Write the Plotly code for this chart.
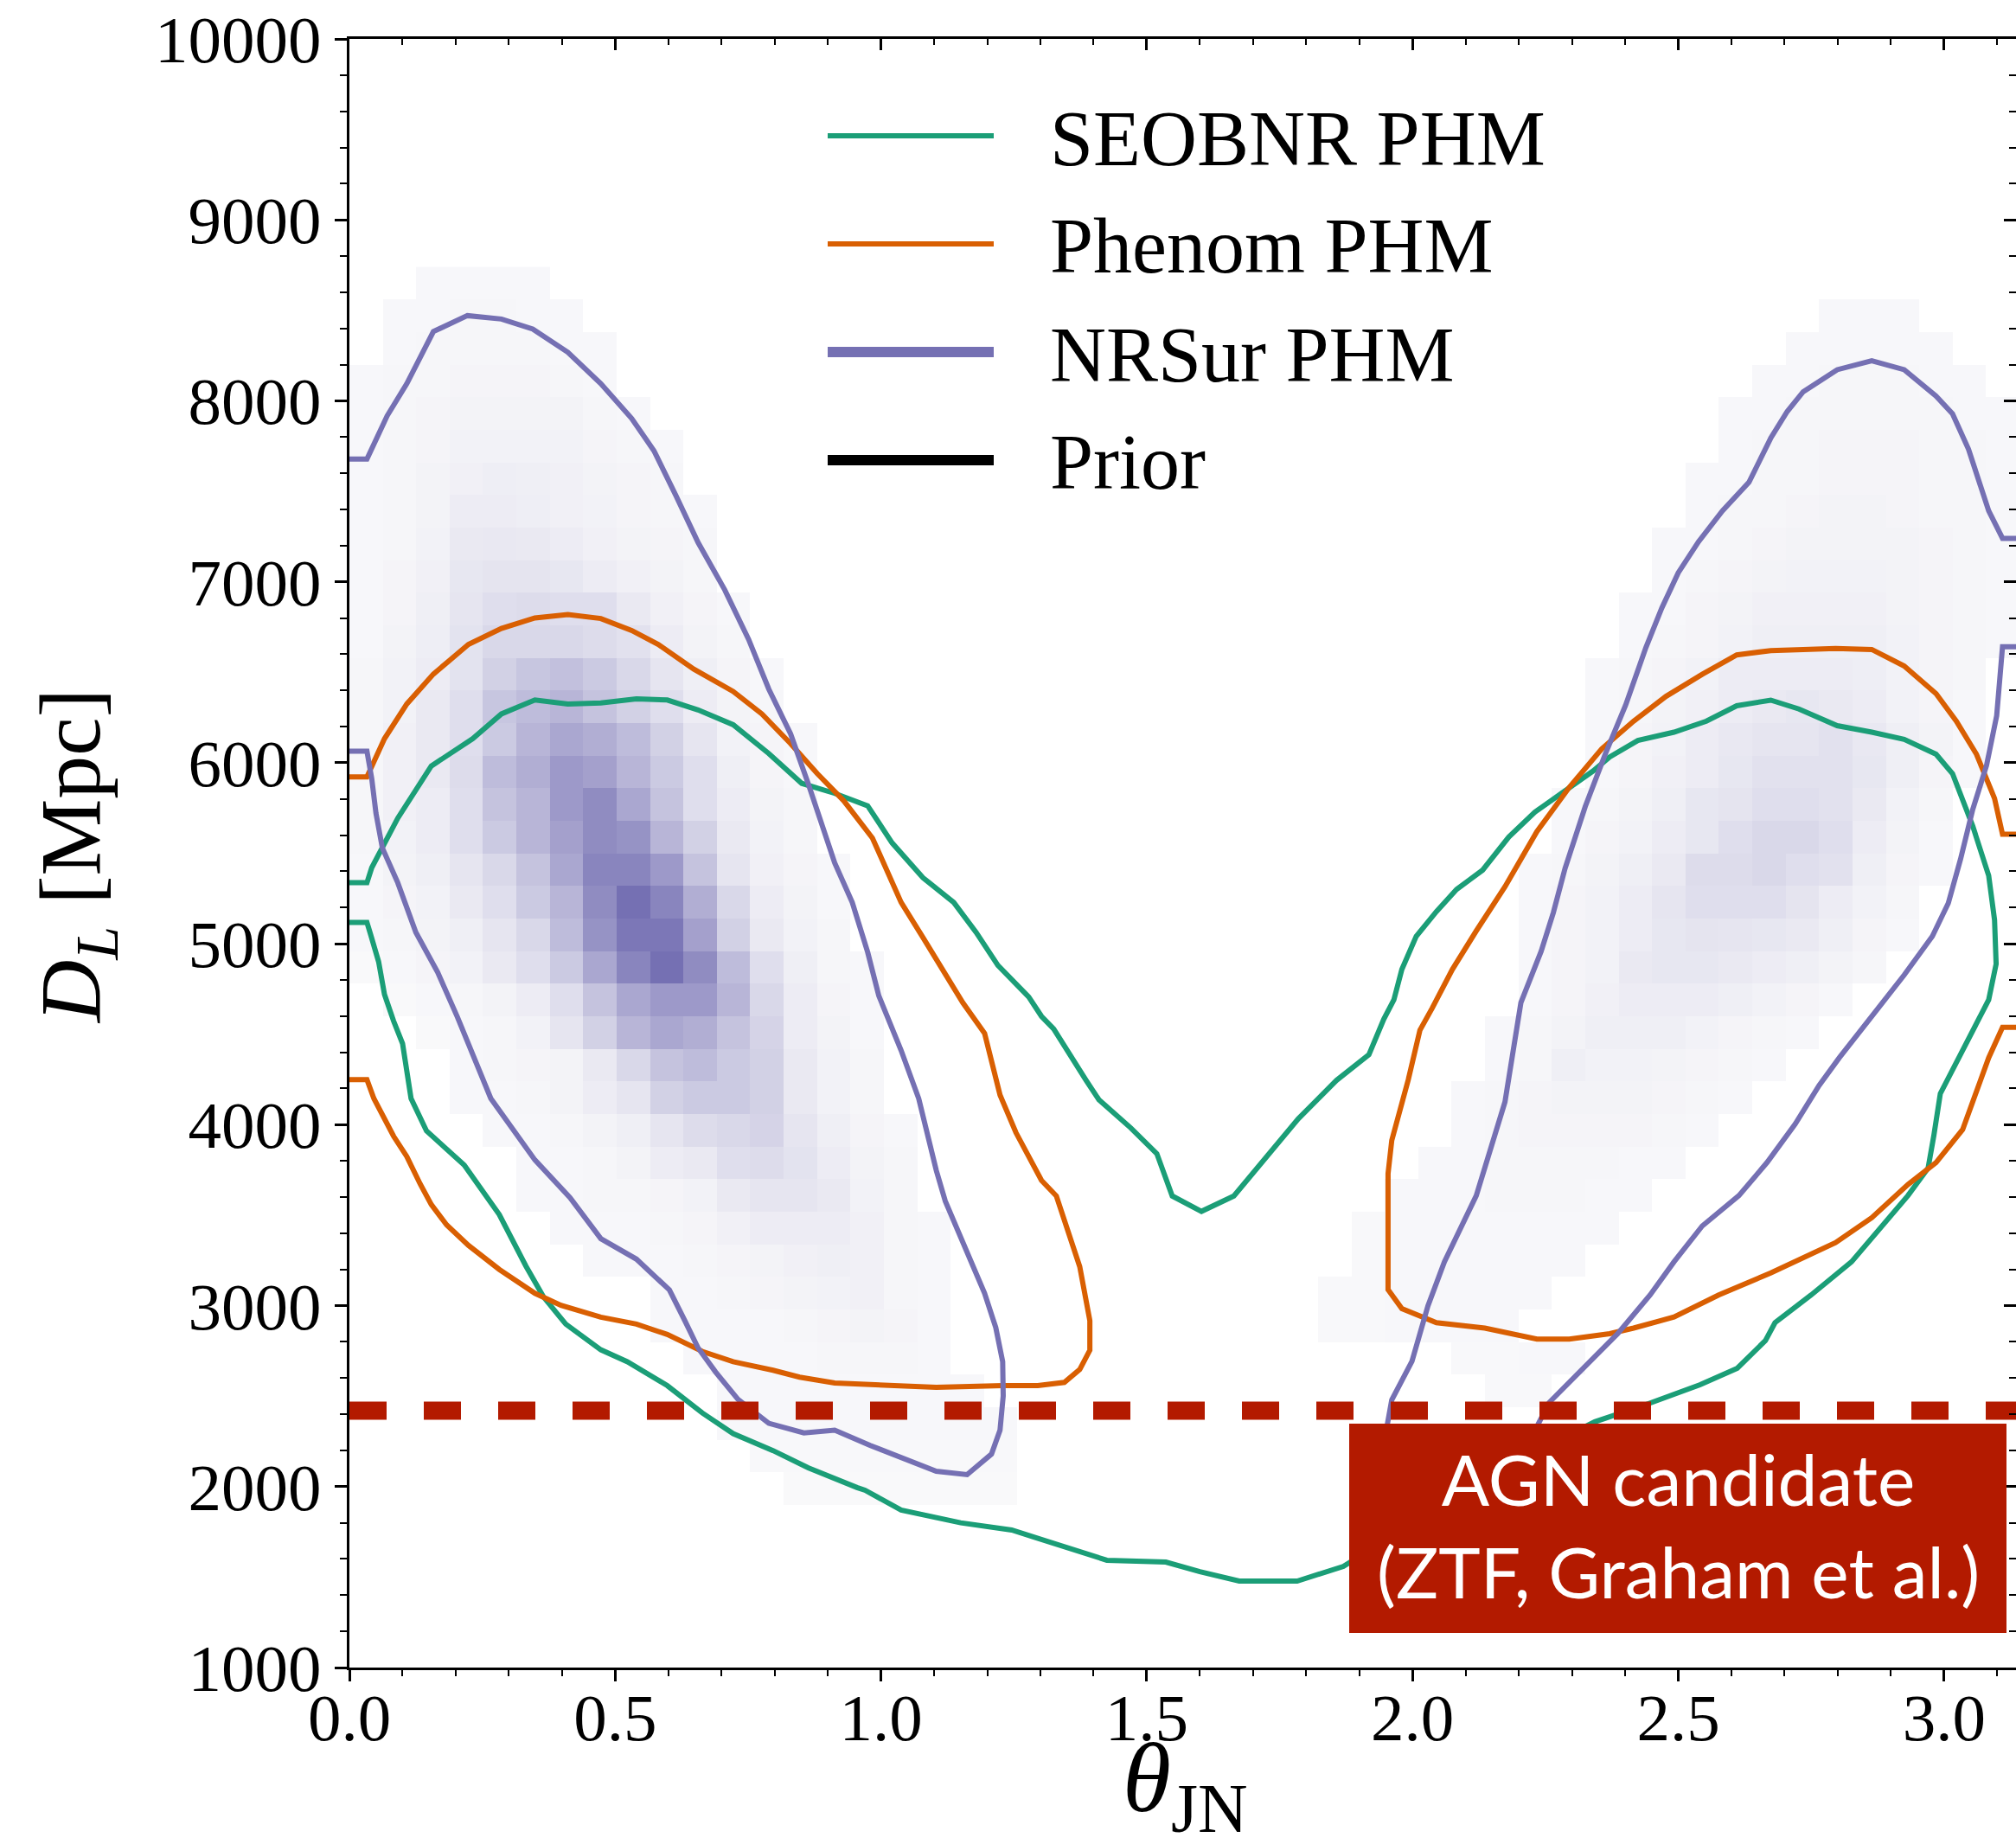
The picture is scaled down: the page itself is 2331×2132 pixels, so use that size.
import math
import plotly.graph_objects as go

PI = math.pi

# ---------------- 2-D histogram of NRSur samples (relative density 0..1) ----------------
N_THETA_BINS = 50
DL_TOP_EDGE = 8740
DL_BIN = 180
N_DL_BINS = 39

# row index (from top) -> (first theta-bin, densities)
LEFT_BLOB_ROWS = {
    0: (2, [.02, .02, .02, .02]),
    1: (1, [.02, .02, .03, .03, .02, .02]),
    2: (1, [.02, .03, .03, .03, .03, .02, .02]),
    3: (0, [.02, .03, .03, .04, .04, .04, .03, .02]),
    4: (0, [.02, .03, .04, .05, .05, .05, .05, .03, .02]),
    5: (0, [.02, .03, .04, .06, .06, .06, .06, .04, .03, .02]),
    6: (0, [.02, .03, .05, .07, .09, .08, .07, .05, .04, .03]),
    7: (0, [.02, .03, .05, .10, .10, .09, .07, .06, .04, .03, .02]),
    8: (0, [.02, .03, .06, .12, .13, .12, .10, .07, .05, .04, .03]),
    9: (0, [.02, .04, .07, .14, .16, .16, .14, .10, .07, .05, .03]),
    10: (0, [.02, .04, .08, .15, .20, .22, .20, .20, .12, .07, .04, .02]),
    11: (0, [.02, .05, .09, .17, .25, .25, .25, .22, .18, .10, .05, .03]),
    12: (0, [.03, .06, .10, .17, .30, .38, .42, .35, .25, .15, .08, .04, .02]),
    13: (0, [.03, .06, .12, .20, .38, .45, .50, .40, .30, .20, .10, .05, .03]),
    14: (0, [.03, .07, .12, .20, .35, .50, .60, .55, .45, .30, .15, .06, .04, .02]),
    15: (0, [.03, .07, .12, .22, .45, .55, .70, .65, .50, .35, .20, .08, .04, .02]),
    16: (0, [.03, .07, .10, .20, .40, .50, .70, .80, .60, .40, .20, .10, .05, .03]),
    17: (0, [.03, .06, .10, .20, .35, .50, .65, .80, .75, .50, .30, .12, .06, .03]),
    18: (0, [.02, .05, .08, .15, .25, .40, .60, .85, .85, .70, .40, .15, .07, .04, .02]),
    19: (0, [.02, .04, .06, .12, .20, .35, .50, .80, 1.0, .85, .55, .25, .10, .05, .02]),
    20: (0, [.02, .03, .05, .08, .15, .25, .45, .75, .95, .95, .65, .30, .12, .06, .03]),
    21: (0, [.01, .02, .04, .06, .12, .20, .35, .60, .85, 1.0, .80, .45, .20, .08, .03, .02]),
    22: (1, [.01, .02, .03, .05, .10, .20, .40, .60, .70, .70, .50, .25, .10, .04, .02]),
    23: (2, [.01, .02, .03, .06, .15, .30, .50, .60, .55, .40, .28, .10, .05, .02]),
    24: (3, [.02, .03, .04, .05, .12, .25, .40, .45, .35, .30, .12, .06, .03]),
    25: (3, [.02, .02, .03, .05, .10, .15, .30, .35, .35, .30, .12, .06, .03]),
    26: (4, [.02, .02, .03, .05, .08, .15, .22, .25, .28, .15, .08, .04, .02]),
    27: (5, [.02, .02, .03, .05, .10, .12, .20, .22, .17, .10, .05, .03]),
    28: (5, [.02, .02, .03, .03, .04, .06, .12, .15, .15, .12, .06, .03]),
    29: (6, [.02, .02, .02, .03, .04, .07, .10, .10, .10, .07, .03, .02]),
    30: (7, [.02, .02, .02, .03, .04, .05, .07, .08, .07, .03, .02]),
    31: (9, [.02, .02, .03, .04, .05, .06, .07, .03, .02]),
    32: (9, [.02, .02, .02, .02, .03, .04, .05, .04, .02]),
    33: (10, [.02, .02, .02, .02, .03, .03, .03, .02]),
    34: (11, [.02, .02, .02, .02, .02, .02, .02, .02]),
    35: (11, [.02, .02, .02, .02, .02, .02, .02, .02, .02]),
    36: (12, [.015, .015, .015, .015, .015, .015, .015, .015]),
    37: (13, [.01, .01, .01, .01, .01, .01, .01]),
}

RIGHT_BLOB_ROWS = {
    1: (44, [.02, .02, .02]),
    2: (43, [.02, .02, .02, .02, .02]),
    3: (42, [.02, .02, .03, .03, .03, .02, .02]),
    4: (41, [.02, .02, .03, .03, .03, .03, .03, .02, .02]),
    5: (41, [.02, .03, .03, .04, .04, .04, .03, .03, .02]),
    6: (40, [.02, .02, .03, .03, .04, .04, .04, .03, .03, .02]),
    7: (40, [.02, .03, .03, .04, .05, .05, .04, .03, .03, .02]),
    8: (39, [.02, .02, .03, .04, .05, .05, .05, .05, .04, .03, .02]),
    9: (39, [.02, .03, .04, .05, .06, .06, .06, .05, .04, .03, .02]),
    10: (38, [.02, .02, .04, .05, .07, .07, .07, .07, .05, .04, .03, .02]),
    11: (38, [.02, .03, .04, .06, .08, .08, .08, .08, .06, .04, .03, .02]),
    12: (37, [.02, .03, .04, .06, .10, .10, .10, .10, .09, .06, .04, .03]),
    13: (37, [.02, .03, .05, .07, .10, .12, .14, .12, .10, .06, .04, .02]),
    14: (37, [.02, .04, .06, .10, .13, .15, .15, .18, .13, .08, .05, .02]),
    15: (37, [.02, .04, .07, .10, .14, .18, .18, .18, .14, .08, .04, .02]),
    16: (36, [.02, .03, .05, .08, .14, .16, .20, .20, .18, .12, .06, .03]),
    17: (36, [.02, .04, .06, .10, .14, .20, .25, .25, .20, .10, .05, .02]),
    18: (35, [.02, .03, .05, .08, .12, .22, .22, .25, .20, .18, .08, .04, .02]),
    19: (35, [.02, .04, .06, .10, .15, .20, .20, .20, .16, .10, .06, .03]),
    20: (35, [.02, .04, .06, .10, .14, .16, .15, .14, .12, .08, .04, .02]),
    21: (35, [.02, .04, .06, .12, .14, .14, .12, .10, .08, .05, .03]),
    22: (35, [.02, .04, .07, .10, .10, .10, .08, .06, .04, .02]),
    23: (34, [.02, .03, .05, .08, .08, .08, .06, .04, .03, .02]),
    24: (34, [.02, .03, .08, .06, .06, .05, .04, .03, .02]),
    25: (33, [.02, .03, .04, .05, .05, .05, .04, .03, .02]),
    26: (33, [.02, .03, .04, .04, .04, .04, .03, .02]),
    27: (32, [.02, .02, .03, .03, .03, .03, .02, .02]),
    28: (31, [.02, .02, .02, .03, .03, .03, .02, .02]),
    29: (30, [.015, .02, .02, .02, .02, .02, .02, .02]),
    30: (30, [.015, .02, .02, .02, .02, .02, .02]),
    31: (29, [.015, .015, .02, .02, .02, .02, .02]),
    32: (29, [.015, .015, .02, .02, .02, .02]),
    33: (33, [.015, .015, .02, .02]),
    34: (34, [.015, .015]),
}

# ---------------- 90% credible contours (theta_JN [rad], D_L [Mpc]) ----------------
SEOBNR_THETA = [0, 0.033, 0.042, 0.091, 0.154, 0.232, 0.286, 0.349, 0.411, 0.473, 0.540, 0.598,
                0.656, 0.722, 0.789, 0.851, 0.913, 0.975, 1.021, 1.079, 1.137, 1.179, 1.220, 1.278,
                1.302, 1.325, 1.386, 1.41, 1.47, 1.519, 1.548, 1.603, 1.664, 1.724, 1.785, 1.857,
                1.918, 1.946, 1.965, 1.980, 2.007, 2.045, 2.083, 2.132, 2.181, 2.230, 2.287, 2.340,
                2.371, 2.424, 2.492, 2.553, 2.610, 2.674, 2.727, 2.799, 2.864, 2.925, 2.985, 3.016,
                3.054, 3.084, 3.095, 3.098, 3.084, 3.046, 3.016, 2.993, 2.981, 2.970, 2.932, 2.879,
                2.826, 2.750, 2.682, 2.664, 2.611, 2.541, 2.439, 2.343, 2.25, 2.10, 1.95, 1.870,
                1.783, 1.743, 1.674, 1.60, 1.536, 1.425, 1.33, 1.246, 1.15, 1.038, 0.970, 0.955,
                0.863, 0.797, 0.722, 0.664, 0.598, 0.523, 0.473, 0.407, 0.365, 0.332, 0.282, 0.216,
                0.145, 0.116, 0.100, 0.083, 0.066, 0.055, 0.040, 0.033, 0]
SEOBNR_DL = [5337, 5337, 5420, 5694, 5982, 6133, 6270, 6347, 6325, 6330, 6353, 6347,
             6292, 6210, 6051, 5886, 5831, 5762, 5557, 5365, 5228, 5063, 4880, 4706,
             4599, 4529, 4245, 4138, 3982, 3840, 3606, 3521, 3606, 3819, 4032, 4245,
             4387, 4583, 4690, 4858, 5041, 5178, 5300, 5407, 5589, 5727, 5849, 5955,
             6032, 6123, 6169, 6230, 6315, 6346, 6297, 6205, 6169, 6129, 6047, 5940,
             5650, 5376, 5132, 4888, 4690, 4477, 4309, 4172, 3943, 3760, 3608, 3425,
             3242, 3059, 2906, 2807, 2654, 2563, 2453, 2358, 2220, 1980, 1700, 1559,
             1478, 1478, 1478, 1530, 1583, 1593, 1680, 1760, 1800, 1870, 1980, 1995,
             2104, 2199, 2293, 2407, 2558, 2690, 2756, 2898, 3049, 3219, 3503, 3777,
             3966, 4145, 4448, 4574, 4720, 4900, 5050, 5118, 5118]

PHENOM_LEFT_THETA = [0, 0.033, 0.066, 0.108, 0.158, 0.224, 0.286, 0.349, 0.411, 0.473, 0.531, 0.581,
                     0.648, 0.722, 0.776, 0.830, 0.880, 0.930, 0.984, 1.038, 1.079, 1.112, 1.154,
                     1.195, 1.224, 1.254, 1.302, 1.330, 1.374, 1.393, 1.393, 1.374, 1.345, 1.295,
                     1.229, 1.104, 0.980, 0.913, 0.847, 0.797, 0.722, 0.664, 0.598, 0.540, 0.473,
                     0.398, 0.349, 0.282, 0.224, 0.183, 0.154, 0.133, 0.108, 0.083, 0.046, 0.033, 0]
PHENOM_LEFT_DL = [5922, 5922, 6133, 6325, 6490, 6654, 6742, 6800, 6819, 6797, 6731, 6654,
                  6517, 6394, 6270, 6106, 5941, 5790, 5584, 5228, 5035, 4871, 4674,
                  4504, 4164, 3956, 3692, 3606, 3215, 2917, 2754, 2647, 2576, 2558,
                  2558, 2548, 2567, 2573, 2605, 2643, 2690, 2747, 2841, 2898, 2936,
                  3002, 3068, 3200, 3333, 3446, 3559, 3673, 3824, 3937, 4145, 4249, 4249]

PHENOM_RIGHT_THETA = [PI, 3.110, 3.095, 3.061, 3.023, 2.985, 2.925, 2.864, 2.796, 2.735, 2.674, 2.610,
                      2.545, 2.477, 2.416, 2.356, 2.295, 2.234, 2.174, 2.120, 2.075, 2.037, 2.014,
                      1.992, 1.976, 1.961, 1.954, 1.954, 1.954, 1.954, 1.980, 2.045, 2.136, 2.234,
                      2.295, 2.371, 2.416, 2.492, 2.576, 2.674, 2.796, 2.864, 2.932, 2.985, 3.035,
                      3.084, 3.110, PI]
PHENOM_RIGHT_DL = [5605, 5605, 5803, 6047, 6230, 6382, 6535, 6626, 6632, 6626, 6620, 6596,
                   6489, 6367, 6230, 6077, 5864, 5620, 5315, 5071, 4858, 4644, 4522,
                   4248, 4065, 3913, 3730, 3425, 3242, 3089, 2983, 2906, 2876, 2815,
                   2815, 2845, 2876, 2937, 3059, 3181, 3348, 3486, 3669, 3791, 3973,
                   4370, 4538, 4538]

NRSUR_LEFT_THETA = [0, 0.033, 0.071, 0.108, 0.158, 0.222, 0.286, 0.345, 0.411, 0.473, 0.531, 0.573,
                    0.614, 0.656, 0.706, 0.751, 0.789, 0.830, 0.863, 0.913, 0.946, 0.975, 0.996,
                    1.038, 1.071, 1.087, 1.104, 1.121, 1.162, 1.195, 1.216, 1.229, 1.230, 1.224,
                    1.208, 1.162, 1.104, 1.046, 0.980, 0.913, 0.855, 0.789, 0.731, 0.689, 0.656,
                    0.631, 0.602, 0.540, 0.473, 0.415, 0.349, 0.266, 0.220, 0.203, 0.166, 0.125,
                    0.091, 0.062, 0.050, 0.042, 0.033, 0]
NRSUR_LEFT_DL = [7678, 7678, 7917, 8095, 8383, 8471, 8452, 8397, 8268, 8095, 7903, 7724,
                 7478, 7217, 6956, 6682, 6407, 6160, 5886, 5447, 5228, 4953, 4712,
                 4410, 4145, 3956, 3748, 3578, 3295, 3068, 2879, 2690, 2501, 2312,
                 2180, 2066, 2085, 2151, 2227, 2312, 2297, 2350, 2482, 2633, 2766,
                 2917, 3087, 3257, 3370, 3597, 3805, 4145, 4486, 4596, 4843, 5063,
                 5337, 5529, 5721, 5913, 6064, 6064]

NRSUR_RIGHT_THETA = [PI, 3.110, 3.084, 3.046, 3.016, 2.985, 2.925, 2.864, 2.799, 2.735, 2.705, 2.674,
                     2.633, 2.583, 2.538, 2.500, 2.469, 2.439, 2.401, 2.363, 2.325, 2.287, 2.265,
                     2.242, 2.204, 2.174, 2.120, 2.060, 2.029, 1.999, 1.961, 1.95, 1.97, 2.05,
                     2.15, 2.22, 2.257, 2.325, 2.386, 2.447, 2.492, 2.545, 2.614, 2.667, 2.720,
                     2.765, 2.803, 2.864, 2.925, 2.978, 3.008, 3.031, 3.054, 3.080, 3.099, 3.110, PI]
NRSUR_RIGHT_DL = [7240, 7240, 7392, 7733, 7928, 8026, 8172, 8221, 8172, 8050, 7941, 7794,
                  7550, 7392, 7221, 7050, 6855, 6636, 6319, 6050, 5758, 5416, 5172,
                  4958, 4675, 4126, 3608, 3242, 2998, 2693, 2479, 2300, 2150, 2050,
                  2080, 2250, 2464, 2662, 2845, 3059, 3242, 3440, 3608, 3791, 4004,
                  4217, 4370, 4598, 4827, 5041, 5224, 5467, 5742, 5986, 6260, 6641, 6641]

AGN_DL = 2420
AGN_LABEL = "AGN candidate<br>(ZTF, Graham et al.)"

LEGEND_NAMES = ["SEOBNR PHM", "Phenom PHM", "NRSur PHM", "Prior"]

X_TICKS = [0.0, 0.5, 1.0, 1.5, 2.0, 2.5, 3.0]
Y_TICKS = [1000, 2000, 3000, 4000, 5000, 6000, 7000, 8000, 9000, 10000]

# ---------------- styling ----------------
GREEN = "#1b9e77"
ORANGE = "#d95f02"
PURPLE = "#7570b3"
RED = "#b31a00"
SERIF = "Liberation Serif"

W, H = 2331, 2132
L_PX, T_PX, B_PX = 404, 45, 1928      # plot area edges (pixels)
PX_PER_RAD = 614.6
X_MAX = (W - L_PX) / PX_PER_RAD


def px(xp):
    return (xp - L_PX) / (W - L_PX)


def py(yp):
    return (B_PX - yp) / (B_PX - T_PX)


# build histogram grid
z = [[None] * N_THETA_BINS for _ in range(N_DL_BINS)]
for rows in (LEFT_BLOB_ROWS, RIGHT_BLOB_ROWS):
    for k, (start, vals) in rows.items():
        for j, v in enumerate(vals):
            c = start + j
            if 0 <= c < N_THETA_BINS:
                z[k][c] = v if z[k][c] is None else z[k][c] + v
x_centers = [(i + 0.5) * PI / N_THETA_BINS for i in range(N_THETA_BINS)]
y_centers = [DL_TOP_EDGE - DL_BIN * (k + 0.5) for k in range(N_DL_BINS)]

fig = go.Figure()
fig.add_trace(go.Heatmap(
    x=x_centers, y=y_centers, z=z, zmin=0, zmax=1,
    colorscale=[[0, "rgb(250,250,251)"], [1, "rgb(117,112,179)"]],
    showscale=False, hoverinfo="skip"))

LW = 6
for th, dl, col in [
    (SEOBNR_THETA, SEOBNR_DL, GREEN),
    (PHENOM_LEFT_THETA, PHENOM_LEFT_DL, ORANGE),
    (PHENOM_RIGHT_THETA, PHENOM_RIGHT_DL, ORANGE),
    (NRSUR_LEFT_THETA, NRSUR_LEFT_DL, PURPLE),
    (NRSUR_RIGHT_THETA, NRSUR_RIGHT_DL, PURPLE),
]:
    fig.add_trace(go.Scatter(x=th, y=dl, mode="lines", showlegend=False, hoverinfo="skip",
                             line=dict(color=col, width=LW)))

# AGN candidate distance (dashed)
fig.add_trace(go.Scatter(x=[0, PI], y=[AGN_DL, AGN_DL], mode="lines", showlegend=False,
                         hoverinfo="skip", line=dict(color=RED, width=21, dash="43px,43px")))

# invisible trace for mirrored axes
fig.add_trace(go.Scatter(x=[0], y=[1000], xaxis="x2", yaxis="y2", mode="markers",
                         marker=dict(opacity=0), showlegend=False, hoverinfo="skip"))

tickfont = dict(family=SERIF, size=77, color="black")
fig.update_layout(
    width=W, height=H,
    margin=dict(l=L_PX, r=0, t=T_PX, b=H - B_PX, pad=0),
    paper_bgcolor="white", plot_bgcolor="white",
    showlegend=False,
    xaxis=dict(range=[0, X_MAX], tickvals=X_TICKS, ticktext=[f"{v:.1f}" for v in X_TICKS],
               ticks="outside", ticklen=13, tickwidth=3, tickcolor="black",
               minor=dict(dtick=0.1, tick0=0, ticks="outside", ticklen=7, tickwidth=2, tickcolor="black"),
               showline=True, linecolor="black", linewidth=3, mirror=True,
               showgrid=False, zeroline=False, tickfont=tickfont, ticklabelstandoff=-24),
    yaxis=dict(range=[1000, 10000], tickvals=Y_TICKS, ticktext=[str(v) for v in Y_TICKS],
               ticks="outside", ticklen=14, tickwidth=3, tickcolor="black",
               minor=dict(dtick=200, tick0=0, ticks="outside", ticklen=8, tickwidth=2, tickcolor="black"),
               showline=True, linecolor="black", linewidth=3,
               showgrid=False, zeroline=False, tickfont=tickfont, ticklabelstandoff=0),
    xaxis2=dict(range=[0, X_MAX], overlaying="x", side="top", tickvals=X_TICKS, ticks="inside",
                ticklen=13, tickwidth=3, tickcolor="black", showticklabels=False, showline=False,
                showgrid=False, zeroline=False,
                minor=dict(dtick=0.1, tick0=0, ticks="inside", ticklen=7, tickwidth=2, tickcolor="black")),
    yaxis2=dict(range=[1000, 10000], overlaying="y", side="right", tickvals=Y_TICKS, ticks="inside",
                ticklen=14, tickwidth=3, tickcolor="black", showticklabels=False, showline=False,
                showgrid=False, zeroline=False,
                minor=dict(dtick=200, tick0=0, ticks="inside", ticklen=8, tickwidth=2, tickcolor="black")),
)

shapes = []
annotations = []

# manual legend
LEG_Y = [157, 282, 407, 532]
LEG_COLORS = [GREEN, ORANGE, PURPLE, "black"]
LEG_WIDTHS = [6, 6, 12, 12]
for name, yv, col, w in zip(LEGEND_NAMES, LEG_Y, LEG_COLORS, LEG_WIDTHS):
    shapes.append(dict(type="line", xref="paper", yref="paper", x0=px(957), x1=px(1149),
                       y0=py(yv), y1=py(yv), line=dict(color=col, width=w), layer="above"))
    annotations.append(dict(text=name, xref="paper", yref="paper", x=px(1212), y=py(yv + 3),
                            xanchor="left", yanchor="middle", showarrow=False,
                            font=dict(family=SERIF, size=90, color="black")))

# AGN box
shapes.append(dict(type="rect", xref="paper", yref="paper", x0=px(1560), x1=px(2320),
                   y0=py(1888), y1=py(1646), fillcolor=RED, line=dict(width=0), layer="above"))
annotations.append(dict(text=AGN_LABEL, xref="paper", yref="paper", x=px(1940), y=py(1762),
                        xanchor="center", yanchor="middle", showarrow=False, align="center",
                        font=dict(family="Lato", size=82, color="white")))

# axis titles
annotations.append(dict(text="<i>D</i><sub><i>L</i></sub> [Mpc]", xref="paper", yref="paper",
                        x=px(89), y=py(990), xanchor="center", yanchor="middle", textangle=-90,
                        showarrow=False, font=dict(family=SERIF, size=100, color="black")))
annotations.append(dict(text="<i>θ</i><sub>JN</sub>", xref="paper", yref="paper",
                        x=px(1370), y=py(1990), xanchor="center", yanchor="top",
                        showarrow=False, font=dict(family=SERIF, size=114, color="black")))

fig.update_layout(shapes=shapes, annotations=annotations)
fig.write_html("out.html")
